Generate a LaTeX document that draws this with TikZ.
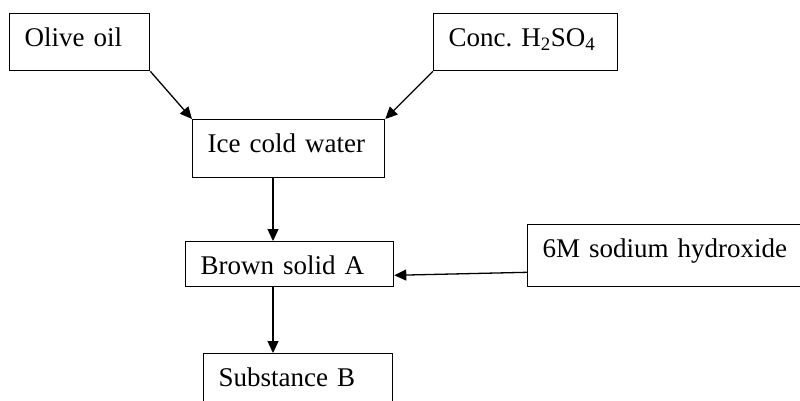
\documentclass[tikz,border=0pt]{standalone}
\usepackage{fontspec}
\setmainfont{Liberation Serif}
\usetikzlibrary{arrows.meta,calc}
\begin{document}
\begin{tikzpicture}[x=1pt,y=-1pt,
  box/.style={draw, line width=1.3pt, anchor=north west, inner xsep=15pt, inner ysep=8pt,
    text height=25pt, align=left, font=\fontsize{27}{32}\selectfont},
  arr/.style={line width=1.3pt, -{Triangle[length=12pt,width=11pt]}}]
\useasboundingbox (0,0) rectangle (800,400);
\node[box, text width=110pt, text depth=16pt] (olive) at (9,13) {Olive~oil};
\node[box, text width=154pt, text depth=16pt] (conc) at (433,13) {Conc.~H\textsubscript{2}SO\textsubscript{4}};
\node[box, text width=162pt, text depth=17pt] (ice) at (192,119) {Ice~cold~water};
\node[box, text width=178pt, text depth=4pt] (brown) at (185,241) {Brown~solid~A};
\node[box, text width=260pt, text depth=21pt] (naoh) at (527,224) {6M~sodium~hydroxide};
\node[box, text width=159pt, text depth=25pt] (subst) at (203,353) {Substance~B};
\coordinate (ax) at (273,0);
\draw[arr] (olive.south east) -- (ice.north west);
\draw[arr] (conc.south west) -- (ice.north east);
\draw[arr] (ice.south -| ax) -- (brown.north -| ax);
\draw[arr] ($(naoh.south west)+(0,-15)$) -- ($(brown.south east)+(0,-12)$);
\draw[arr] (brown.south -| ax) -- (subst.north -| ax);
\end{tikzpicture}
\end{document}
